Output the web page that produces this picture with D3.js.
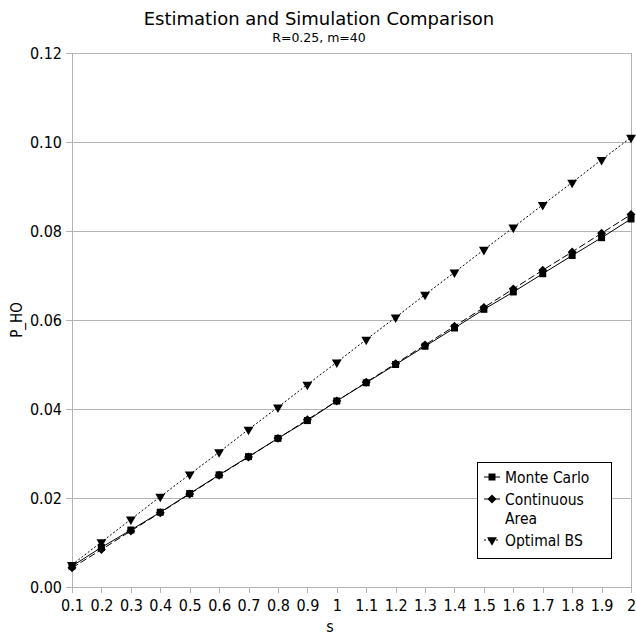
<!DOCTYPE html>
<html lang="en">
<head>
  <meta charset="utf-8" />
  <script src="https://d3js.org/d3.v7.min.js"></script>
  <style>
    body { margin: 0; background: #fff; }
    text { font-family: "DejaVu Sans", sans-serif; fill: #000; }
    .cond { font-family: "DejaVu Sans Condensed", "DejaVu Sans", sans-serif; font-stretch: condensed; }
  </style>
</head>
<body>
  <script>
    var sValues = [0.1, 0.2, 0.3, 0.4, 0.5, 0.6, 0.7, 0.8, 0.9, 1, 1.1, 1.2, 1.3, 1.4, 1.5, 1.6, 1.7, 1.8, 1.9, 2];
    var sLabels = ["0.1", "0.2", "0.3", "0.4", "0.5", "0.6", "0.7", "0.8", "0.9", "1", "1.1", "1.2", "1.3", "1.4", "1.5", "1.6", "1.7", "1.8", "1.9", "2"];
    var monteCarlo = [0.0047, 0.0089, 0.0128, 0.0168, 0.0210, 0.0252, 0.0293, 0.0334, 0.0374, 0.0418, 0.0459, 0.0500, 0.0541, 0.0582, 0.0624, 0.0663, 0.0704, 0.0745, 0.0785, 0.0827];
    var continuousArea = [0.0043, 0.0084, 0.0126, 0.0167, 0.0209, 0.0251, 0.0292, 0.0334, 0.0376, 0.0418, 0.0460, 0.0502, 0.0544, 0.0586, 0.0628, 0.0670, 0.0712, 0.0753, 0.0795, 0.0837];
    var optimalBS = [0.0050, 0.0101, 0.0152, 0.0203, 0.0253, 0.0303, 0.0354, 0.0404, 0.0455, 0.0505, 0.0556, 0.0606, 0.0657, 0.0707, 0.0758, 0.0808, 0.0859, 0.0909, 0.0960, 0.1010];
    var yTicks = [0, 0.02, 0.04, 0.06, 0.08, 0.10, 0.12];

    var width = 636, height = 635;
    var plotLeft = 72, plotRight = 631, plotTop = 53, plotBottom = 587;

    var svg = d3.select("body").append("svg")
      .attr("width", width)
      .attr("height", height);

    var x = d3.scalePoint().domain(sLabels).range([plotLeft, plotRight]);
    var y = d3.scaleLinear().domain([0, 0.12]).range([plotBottom, plotTop]);

    // grid
    svg.append("g").selectAll("line")
      .data(yTicks)
      .enter().append("line")
      .attr("x1", plotLeft).attr("x2", plotRight)
      .attr("y1", function (d) { return y(d); })
      .attr("y2", function (d) { return y(d); })
      .attr("stroke", "#b3b3b3")
      .attr("stroke-width", 1)
      .attr("shape-rendering", "crispEdges");

    svg.append("line")
      .attr("x1", plotRight).attr("x2", plotRight)
      .attr("y1", plotTop).attr("y2", plotBottom)
      .attr("stroke", "#b3b3b3")
      .attr("shape-rendering", "crispEdges");

    // axes
    var yAxis = svg.append("g")
      .attr("transform", "translate(" + plotLeft + ",0)")
      .call(d3.axisLeft(y).tickValues(yTicks).tickFormat(d3.format(".2f")).tickSize(6).tickPadding(4));
    var xAxis = svg.append("g")
      .attr("transform", "translate(0," + plotBottom + ")")
      .call(d3.axisBottom(x).tickSize(6).tickPadding(7));

    [xAxis, yAxis].forEach(function (g) {
      g.select(".domain").attr("stroke", "#b3b3b3").attr("shape-rendering", "crispEdges");
      g.selectAll(".tick line").attr("stroke", "#b3b3b3").attr("shape-rendering", "crispEdges");
      g.selectAll("text")
        .attr("class", "cond")
        .style("font-size", "16px")
        .attr("fill", "#000");
    });

    // titles
    svg.append("text")
      .attr("x", 319).attr("y", 25)
      .attr("text-anchor", "middle")
      .style("font-size", "18px")
      .text("Estimation and Simulation Comparison");
    svg.append("text")
      .attr("x", 319).attr("y", 42)
      .attr("text-anchor", "middle")
      .style("font-size", "12.5px")
      .text("R=0.25, m=40");
    svg.append("text")
      .attr("class", "cond")
      .attr("x", 330).attr("y", 632)
      .attr("text-anchor", "middle")
      .style("font-size", "16px")
      .text("s");
    svg.append("text")
      .attr("class", "cond")
      .attr("transform", "translate(22,320) rotate(-90)")
      .attr("text-anchor", "middle")
      .style("font-size", "15px")
      .text("P_HO");

    var series = [
      { name: "Monte Carlo", values: monteCarlo, dash: null, symbol: d3.symbolSquare, size: 49, rot: 0 },
      { name: "Continuous Area", values: continuousArea, dash: "7,3", symbol: d3.symbolSquare, size: 40, rot: 45 },
      { name: "Optimal BS", values: optimalBS, dash: "2,2", symbol: d3.symbolTriangle, size: 42, rot: 180 }
    ];

    var line = d3.line()
      .x(function (d, i) { return x(sLabels[i]); })
      .y(function (d) { return y(d); });

    series.forEach(function (s) {
      svg.append("path")
        .datum(s.values)
        .attr("d", line)
        .attr("fill", "none")
        .attr("stroke", "#000")
        .attr("stroke-width", 1)
        .attr("stroke-dasharray", s.dash);
      svg.append("g").selectAll("path")
        .data(s.values)
        .enter().append("path")
        .attr("d", d3.symbol().type(s.symbol).size(s.size))
        .attr("transform", function (d, i) {
          return "translate(" + x(sLabels[i]) + "," + y(d) + ") rotate(" + s.rot + ")";
        })
        .attr("fill", "#000");
    });

    // legend
    var lg = svg.append("g");
    lg.append("rect")
      .attr("x", 477.5).attr("y", 462.5)
      .attr("width", 134).attr("height", 96)
      .attr("fill", "#fff")
      .attr("stroke", "#000");

    var legendRows = [
      { s: series[0], y: 477, lines: ["Monte Carlo"] },
      { s: series[1], y: 499, lines: ["Continuous", "Area"] },
      { s: series[2], y: 540, lines: ["Optimal BS"] }
    ];
    legendRows.forEach(function (r) {
      lg.append("line")
        .attr("x1", 484).attr("x2", 500)
        .attr("y1", r.y).attr("y2", r.y)
        .attr("stroke", "#000")
        .attr("stroke-dasharray", r.s.dash);
      lg.append("path")
        .attr("d", d3.symbol().type(r.s.symbol).size(r.s.size))
        .attr("transform", "translate(492," + r.y + ") rotate(" + r.s.rot + ")")
        .attr("fill", "#000");
      r.lines.forEach(function (t, k) {
        lg.append("text")
          .attr("class", "cond")
          .attr("x", 505).attr("y", r.y + 6 + k * 19)
          .style("font-size", "15.5px")
          .text(t);
      });
    });
  </script>
</body>
</html>
